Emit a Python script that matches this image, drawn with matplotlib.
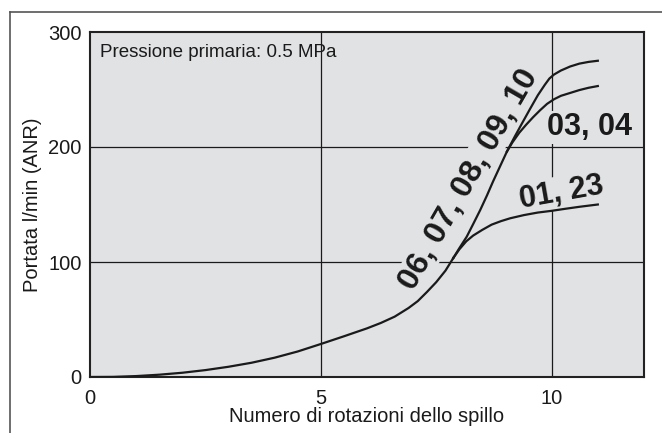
import matplotlib.pyplot as plt
from matplotlib.lines import Line2D

## curves (rotations, l/min ANR)
x_common = [0.0, 0.5, 1.0, 1.5, 2.0, 2.5, 3.0, 3.5, 4.0, 4.5, 5.0, 5.5, 6.0, 6.3, 6.6, 6.9, 7.1, 7.3, 7.5, 7.7, 7.87]
y_common = [0.0, 0.1, 0.8, 2.0, 3.7, 6.0, 8.9, 12.4, 16.8, 22.2, 28.7, 35.4, 42.3, 47.0, 52.5, 60.0, 66.0, 74.0, 82.5, 92.5, 103.5]

# 06, 07, 08, 09, 10
x_high = [7.87, 8.0, 8.16, 8.3, 8.45, 8.6, 8.73, 8.88, 9.03, 9.2, 9.35, 9.53, 9.7, 9.85, 9.95, 10.05, 10.2, 10.4, 10.6, 10.8, 11.0]
y_high = [103.5, 112.0, 122.0, 133.0, 145.0, 158.0, 170.0, 183.0, 196.0, 209.0, 220.0, 233.0, 245.0, 254.0, 259.5, 263.0, 266.5, 270.0, 272.5, 274.0, 275.0]

# 03, 04
x_mid = [9.03, 9.15, 9.3, 9.45, 9.6, 9.75, 9.9, 10.05, 10.2, 10.4, 10.6, 10.8, 11.0]
y_mid = [196.0, 204.0, 212.5, 219.5, 226.0, 232.0, 237.5, 241.5, 244.5, 247.0, 249.5, 251.5, 253.0]

# 01, 23
x_low = [7.87, 8.0, 8.15, 8.3, 8.5, 8.7, 8.9, 9.1, 9.4, 9.7, 10.0, 10.3, 10.6, 10.8, 11.0]
y_low = [103.5, 111.0, 118.0, 123.0, 128.0, 132.5, 135.5, 138.0, 140.8, 143.0, 144.5, 146.3, 148.0, 149.0, 150.0]

x_ticks = [0, 5, 10]
y_ticks = [0, 100, 200, 300]

bg = "#e1e2e4"
ink = "#1a1a1a"

plt.rcParams["font.family"] = ["Liberation Sans", "DejaVu Sans"]

fig = plt.figure(figsize=(6.62, 4.33), dpi=100)
ax = fig.add_axes([90 / 662, 56 / 433, 554 / 662, 345 / 433])
ax.set_facecolor(bg)

## outer frame of the page, cut off at the top and left
fig.add_artist(Line2D([10 / 662, 10 / 662], [0, 1 - 12 / 433], color="#555555", lw=1.2))
fig.add_artist(Line2D([10 / 662, 1], [1 - 12 / 433, 1 - 12 / 433], color="#555555", lw=1.2))

for xv in x_ticks[1:]:
	ax.axvline(xv, color=ink, lw=0.9, zorder=0.5)
for yv in y_ticks[1:-1]:
	ax.axhline(yv, color=ink, lw=0.9, zorder=0.5)

for xs, ys in [(x_common, y_common), (x_high, y_high), (x_mid, y_mid), (x_low, y_low)]:
	ax.plot(xs, ys, color=ink, lw=1.6, solid_joinstyle="round", zorder=3)

ax.set_xlim(0, 12)
ax.set_ylim(0, 300)
ax.set_xticks(x_ticks)
ax.set_yticks(y_ticks)
ax.tick_params(length=0, labelsize=14.5, colors=ink)
ax.tick_params(axis="x", pad=9)
ax.tick_params(axis="y", pad=6)
for s in ax.spines.values():
	s.set_color("#222222")
	s.set_linewidth(1.5)

ax.set_xlabel("Numero di rotazioni dello spillo", fontsize=14.5, color=ink, labelpad=-1)
ax.set_ylabel("Portata l/min (ANR)", fontsize=14.5, color=ink, labelpad=4.5)

ax.text(0.22, 278, "Pressione primaria: 0.5 MPa", fontsize=13.5, color=ink,
	va="baseline", ha="left")

## curve labels, with a background box that breaks the grid lines
box = dict(facecolor=bg, edgecolor="none", pad=1)
ax.text(8.2, 172, "06, 07, 08, 09, 10", rotation=60, fontsize=23, fontweight="bold",
	color=ink, ha="center", va="center", bbox=box, zorder=1, rotation_mode="anchor")
ax.text(10.83, 217, "03, 04", fontsize=22, fontweight="bold", color=ink,
	ha="center", va="center", bbox=box, zorder=1)
ax.text(10.22, 160.5, "01, 23", rotation=10, fontsize=22, fontweight="bold", color=ink,
	ha="center", va="center", bbox=box, zorder=1, rotation_mode="anchor")

fig.savefig("out.png", dpi=100)
